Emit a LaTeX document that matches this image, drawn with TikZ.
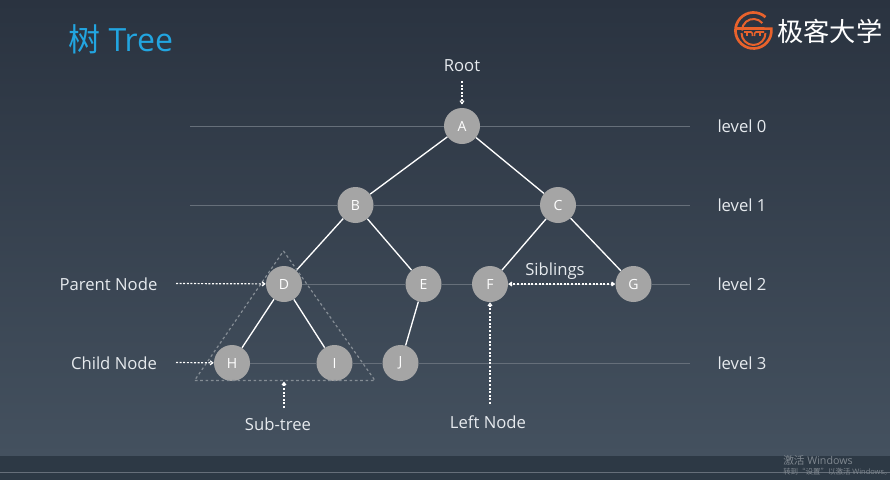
\documentclass[tikz,border=0pt]{standalone}
\usepackage{fontspec}
\setmainfont{Open Sans}
\newfontfamily\cjk{Noto Sans CJK SC}
\usetikzlibrary{arrows.meta,shadings}
\definecolor{bgtop}{HTML}{2A3340}
\definecolor{bgbot}{HTML}{44515F}
\definecolor{strip}{HTML}{2D3945}
\definecolor{lvl}{HTML}{666F7A}
\definecolor{nodeg}{HTML}{A5A5A5}
\definecolor{titleblue}{HTML}{22A5E0}
\definecolor{logoor}{HTML}{E8622C}
\definecolor{txt}{HTML}{E6EAEE}
\definecolor{tri}{HTML}{858D95}
\definecolor{wm}{HTML}{808890}
\tikzset{
  x=0.75pt,y=-0.75pt,
  treenode/.style={circle,fill=nodeg,minimum size=27pt,inner sep=0pt,text=white,font=\fontsize{10.5pt}{12pt}\selectfont},
  edge/.style={draw=white,line width=1pt},
  levelline/.style={draw=lvl,line width=0.7pt},
  label/.style={text=txt,font=\fontsize{12.5pt}{14pt}\selectfont,inner sep=0pt},
  ptr/.style={draw=white,line width=0.9pt,dash pattern=on 1.5pt off 1.2pt,-{Straight Barb[length=2pt,width=3pt]}},
  ptrboth/.style={ptr,{Straight Barb[length=2pt,width=3pt]}-{Straight Barb[length=2pt,width=3pt]}},
  subtree/.style={draw=tri,line width=0.9pt,dash pattern=on 2pt off 2pt},
  logoline/.style={draw=logoor},
}
\begin{document}
\begin{tikzpicture}
\useasboundingbox (0,0) rectangle (890,480);
\shade[top color=bgtop,bottom color=bgbot] (0,0) rectangle (890,456);
\fill[strip] (0,456) rectangle (890,480);
\draw[draw=lvl,line width=0.6pt] (0,472.5) -- (890,472.5);

% level line ends
\coordinate (l0a) at (190,126); \coordinate (l0b) at (690,126);
\coordinate (l1a) at (190,205); \coordinate (l1b) at (690,205);
\coordinate (l2b) at (690,284);
\coordinate (l3b) at (690,363);

% tree nodes
\node[treenode] (A) at (462,126) {A};
\node[treenode] (B) at (355.5,205) {B};
\node[treenode] (C) at (558,205) {C};
\node[treenode] (D) at (284,284) {D};
\node[treenode] (E) at (423.5,284) {E};
\node[treenode] (F) at (490,284) {F};
\node[treenode] (G) at (633.5,284) {G};
\node[treenode] (H) at (232,363) {H};
\node[treenode] (I) at (334.5,363) {I};
\node[treenode] (J) at (400.5,363) {J};

% level lines
\draw[levelline] (l0a) -- (A) (A) -- (l0b);
\draw[levelline] (l1a) -- (B) (B) -- (C) (C) -- (l1b);
\draw[levelline] (D) -- (E) (E) -- (F) (F) -- (G) (G) -- (l2b);
\draw[levelline] (H) -- (I) (I) -- (J) (J) -- (l3b);

% edges
\draw[edge] (A) -- (B);
\draw[edge] (A) -- (C);
\draw[edge] (B) -- (D);
\draw[edge] (B) -- (E);
\draw[edge] (C) -- (F);
\draw[edge] (C) -- (G);
\draw[edge] (D) -- (H);
\draw[edge] (D) -- (I);
\draw[edge] (E) -- (J);

% sub-tree triangle
\coordinate (t1) at (283.5,251);
\coordinate (t2) at (375,380.5);
\coordinate (t3) at (194.5,380.5);
\draw[subtree] (t1) -- (t2) -- (t3) -- cycle;
\coordinate (tb) at (284,381.5);

% labels
\node[label] (root) at (462,65.5) {Root};
\node[label] (parent) at (108.5,284) {Parent Node};
\node[label] (child) at (114,363) {Child Node};
\node[label] (sub) at (278,424) {Sub-tree};
\node[label] (left) at (488,422.5) {Left Node};
\node[label] (sib) at (555,271.5) {Siblings};
\node[label] (lv0) at (742,126) {level 0};
\node[label] (lv1) at (742,205) {level 1};
\node[label] (lv2) at (742,284) {level 2};
\node[label] (lv3) at (742,363) {level 3};

% pointers
\coordinate (rootp) at (462,81);
\coordinate (parp) at (176,283.5);
\coordinate (chip) at (176,362.5);
\coordinate (subp) at (284,408);
\coordinate (leftp) at (490,404);
\draw[ptr] (rootp) -- ([yshift=2.5pt]A.north);
\draw[ptr] (parp) -- (D);
\draw[ptr] (chip) -- (H);
\draw[ptr] (subp) -- (tb);
\draw[ptr] (leftp) -- (F);
\draw[ptrboth] (F) -- (G);

% title
\node[text=titleblue,inner sep=0pt,anchor=west,font=\fontsize{24pt}{28pt}\selectfont] (title) at (68,39) {{\cjk 树} Tree};

% logo
\draw[logoline,line width=2pt] (765.5,17.1) arc[start angle=-48,end angle=-366,radius=18] -- (735.5,28.5);
\draw[logoline,line width=1.5pt] (762.3,23.1) arc[start angle=-40,end angle=-180,radius=11.5];
\draw[logoline,line width=1.5pt] (741.5,33) arc[start angle=-180,end angle=-360,radius=12];
\draw[logoline,line width=1.2pt] (744,32) -- (751,32) .. controls (752.5,32) and (752.5,34) .. (752.5,36);
\draw[logoline,line width=1.2pt] (764,32) -- (756,32) .. controls (754.5,32) and (754.5,34) .. (754.5,36);
\draw[logoline,line width=1pt] (747,32) -- (747,36);
\draw[logoline,line width=1pt] (760,32) -- (760,36);

\node[text=white,inner sep=0pt,anchor=west,font=\cjk\fontsize{19.7pt}{22pt}\selectfont] (logotext) at (777,31) {极客大学};

% watermark
\node[text=wm,inner sep=0pt,anchor=west,font=\fontsize{8pt}{9pt}\selectfont] (wm1) at (783,460.5) {{\cjk 激活} Windows};
\node[text=wm,inner sep=0pt,anchor=west,font=\fontsize{5.6pt}{7pt}\selectfont] (wm2) at (783,472) {{\cjk 转到“设置”以激活} Windows{\cjk 。}};
\end{tikzpicture}
\end{document}
